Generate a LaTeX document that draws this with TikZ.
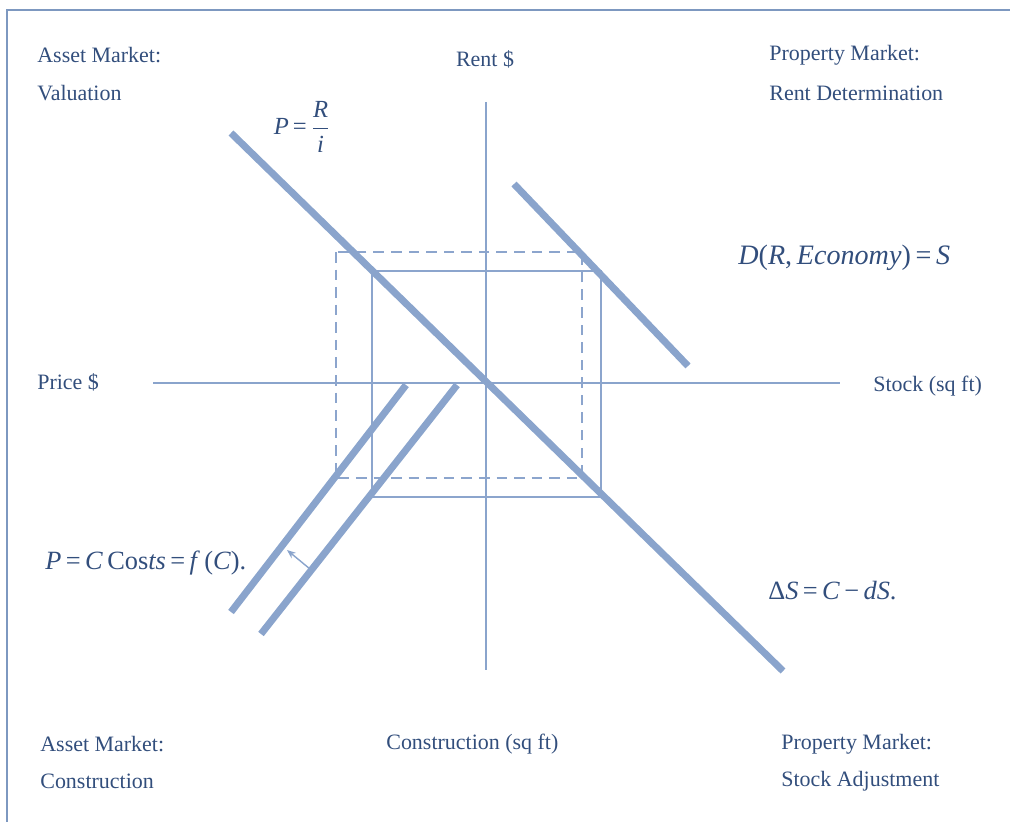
\documentclass[tikz,border=0pt]{standalone}
\usepackage{fontspec}
\setmainfont{Liberation Serif}
\usetikzlibrary{arrows.meta}
\definecolor{linec}{RGB}{138,164,204}
\definecolor{rectc}{RGB}{140,165,205}
\definecolor{txtc}{RGB}{50,78,124}
\definecolor{framec}{RGB}{125,152,192}
\tikzset{
  lbl/.style={text=txtc, font=\fontsize{12.5}{14}\selectfont, inner sep=0pt, anchor=west},
  eq/.style={text=txtc, inner sep=0pt},
  thickline/.style={draw=linec, line width=4pt},
  axis/.style={draw=linec, line width=1.4pt},
  solidrect/.style={draw=rectc, line width=1pt},
  dashrect/.style={draw=rectc, line width=1pt, dash pattern=on 6pt off 4pt},
}
\newcommand{\eqs}{\,=\,}
\begin{document}
\begin{tikzpicture}[x=0.02cm,y=-0.02cm]
\useasboundingbox (0,0) rectangle (1010,821);
\draw[framec, line width=1.2pt] (7,830) -- (7,10) -- (1020,10);
% axes
\coordinate (hl) at (153,383); \coordinate (hr) at (840,383);
\coordinate (vt) at (486,102); \coordinate (vb) at (486,670);
\draw[axis] (hl) -- (hr);
\draw[axis] (vt) -- (vb);
% rectangles
\coordinate (sr1) at (372,271); \coordinate (sr2) at (601,497);
\coordinate (dr1) at (336,252); \coordinate (dr2) at (582,478);
\draw[solidrect] (sr1) rectangle (sr2);
\draw[dashrect] (dr1) rectangle (dr2);
% thick lines
\coordinate (pa) at (231,133); \coordinate (pb) at (783,671);
\draw[thickline] (pa) -- (pb);
\coordinate (da) at (514,184); \coordinate (db) at (688,366);
\draw[thickline] (da) -- (db);
\coordinate (c1a) at (406,385); \coordinate (c1b) at (231,612);
\draw[thickline] (c1a) -- (c1b);
\coordinate (c2a) at (457,385); \coordinate (c2b) at (261,634);
\draw[thickline] (c2a) -- (c2b);
% shift arrow
\coordinate (ar1) at (310,569); \coordinate (ar2) at (287,550);
\draw[linec, line width=0.8pt, -{Stealth[length=5pt,width=4pt]}] (ar1) -- (ar2);
% labels
\node[lbl] (am1) at (37,55) {Asset Market:};
\node[lbl] (am2) at (37,93) {Valuation};
\node[lbl, anchor=center] (rent) at (485,59) {Rent \$};
\node[lbl] (pm1) at (769,55) {Property Market:};
\node[lbl] (pm2) at (769,93) {Rent Determination};
\node[lbl] (price) at (37,382) {Price \$};
\node[lbl] (stock) at (873,386) {Stock (sq ft)};
\node[lbl] (am3) at (40,744) {Asset Market:};
\node[lbl] (am4) at (40,781) {Construction};
\node[lbl] (cons) at (386,744) {Construction (sq ft)};
\node[lbl] (pm3) at (781,744) {Property Market:};
\node[lbl] (pm4) at (781,781) {Stock Adjustment};
% equations
\node[eq, font=\fontsize{14}{16}\selectfont] (eqp) at (302,127)
  {\textit{P}\eqs$\displaystyle\frac{\textit{R}}{\textit{i}}$};
\node[eq, anchor=west, font=\fontsize{16}{18}\selectfont] (eqd) at (738,258)
  {\textit{D}(\textit{R},\,\textit{Economy})\eqs\textit{S}};
\node[eq, anchor=west, font=\fontsize{15}{17}\selectfont] (eqc) at (45,563)
  {\textit{P}\eqs\textit{C}\,Cos\textit{ts}\eqs\textit{f}\,(\textit{C}).};
\node[eq, anchor=west, font=\fontsize{15}{17}\selectfont] (eqs) at (768,591)
  {Δ\textit{S}\eqs\textit{C}\,−\,\textit{dS}.};
\end{tikzpicture}
\end{document}
